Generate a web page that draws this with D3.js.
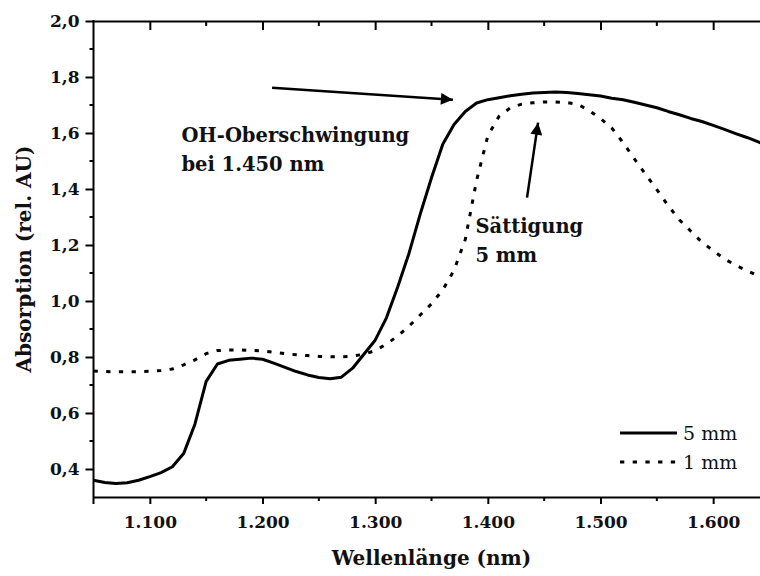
<!DOCTYPE html>
<html>
<head>
<meta charset="utf-8">
<script src="https://cdn.jsdelivr.net/npm/d3@7"></script>
<style>
  html, body { margin: 0; padding: 0; background: #fff; }
  svg { display: block; }
  text { font-family: "DejaVu Serif", "Liberation Serif", serif; fill: #111; }
</style>
</head>
<body>
<svg id="chart" width="760" height="576"></svg>
<script>
// Wavelength grid (nm), 10 nm steps
const wavelengths = d3.range(1050, 1651, 10);

// Absorption of the 5 mm sample (rel. AU)
const abs5mm = [
  0.360, 0.352, 0.348, 0.351, 0.360, 0.373, 0.387, 0.408, 0.455, 0.560,
  0.713, 0.775, 0.788, 0.792, 0.796, 0.792, 0.778, 0.763, 0.748, 0.736,
  0.727, 0.722, 0.728, 0.760, 0.810, 0.860, 0.940, 1.050, 1.170, 1.310,
  1.440, 1.560, 1.630, 1.677, 1.707, 1.719, 1.726, 1.733, 1.738, 1.743,
  1.745, 1.746, 1.745, 1.741, 1.737, 1.732, 1.724, 1.719, 1.710, 1.700,
  1.690, 1.677, 1.665, 1.652, 1.641, 1.627, 1.613, 1.598, 1.584, 1.568,
  1.552
];

// Absorption of the 1 mm sample (rel. AU)
const abs1mm = [
  0.750, 0.748, 0.747, 0.747, 0.748, 0.749, 0.752, 0.757, 0.772, 0.790,
  0.812, 0.823, 0.825, 0.825, 0.824, 0.822, 0.817, 0.812, 0.808, 0.805,
  0.802, 0.801, 0.801, 0.803, 0.810, 0.823, 0.846, 0.875, 0.910, 0.950,
  0.990, 1.040, 1.110, 1.220, 1.430, 1.590, 1.660, 1.690, 1.703, 1.708,
  1.711, 1.711, 1.709, 1.702, 1.680, 1.652, 1.618, 1.566, 1.508, 1.452,
  1.398, 1.341, 1.290, 1.250, 1.210, 1.180, 1.150, 1.128, 1.108, 1.090,
  1.075
];

const seriesNames = ["5 mm", "1 mm"];

// Axis ticks
const xMajorTicks = [1100, 1200, 1300, 1400, 1500, 1600];
const xMinorTicks = [1150, 1250, 1350, 1450, 1550, 1650];
const yMajorTicks = [0.4, 0.6, 0.8, 1.0, 1.2, 1.4, 1.6, 1.8, 2.0];
const yMinorTicks = [0.5, 0.7, 0.9, 1.1, 1.3, 1.5, 1.7, 1.9];

const svg = d3.select("#chart");

const x = d3.scaleLinear().domain([1050, 1650]).range([93.5, 769.5]);
const y = d3.scaleLinear().domain([0.3, 2.0]).range([497, 21]);

// German number formatting: "1.100" and "1,8"
const de = d3.formatLocale({ decimal: ",", thousands: ".", grouping: [3], currency: ["", " €"] });
const fmtX = de.format(",");
const fmtY = de.format(".1f");

const defs = svg.append("defs");
defs.append("clipPath").attr("id", "plotClip")
  .append("rect").attr("x", x(1050)).attr("y", y(2.0))
  .attr("width", x(1650) - x(1050)).attr("height", y(0.3) - y(2.0));

const marker = defs.append("marker")
  .attr("id", "arrowHead").attr("viewBox", "0 0 10 10")
  .attr("refX", 10).attr("refY", 5)
  .attr("markerUnits", "userSpaceOnUse")
  .attr("markerWidth", 22).attr("markerHeight", 12)
  .attr("orient", "auto");
marker.append("path").attr("d", "M0,0 L10,5 L0,10 Z").attr("fill", "#000");

const axisStyle = g => {
  g.select(".domain").attr("stroke", "#000").attr("stroke-width", 2);
  g.selectAll(".tick line").attr("stroke", "#000").attr("stroke-width", 2);
};

// Bottom axis (ticks outward)
const gx = svg.append("g").attr("transform", `translate(0,${y(0.3)})`);
gx.call(d3.axisBottom(x).tickValues(xMajorTicks).tickFormat(fmtX).tickSizeInner(7).tickSizeOuter(0).tickPadding(12))
  .call(axisStyle);
gx.selectAll(".tick text").attr("font-size", 17).attr("font-weight", "bold").attr("fill", "#111").attr("font-family", "DejaVu Serif");
gx.selectAll(".minor").data(xMinorTicks).enter().append("line")
  .attr("x1", d => x(d)).attr("x2", d => x(d)).attr("y1", 0).attr("y2", 4)
  .attr("stroke", "#000").attr("stroke-width", 2);

// Top axis (ticks inward, no labels)
const gt = svg.append("g").attr("transform", `translate(0,${y(2.0)})`);
gt.call(d3.axisTop(x).tickValues(xMajorTicks).tickFormat("").tickSizeInner(-9).tickSizeOuter(0))
  .call(axisStyle);
gt.selectAll(".minor").data(xMinorTicks).enter().append("line")
  .attr("x1", d => x(d)).attr("x2", d => x(d)).attr("y1", 0).attr("y2", 5)
  .attr("stroke", "#000").attr("stroke-width", 2);

// Left axis (ticks outward)
const gy = svg.append("g").attr("transform", `translate(${x(1050)},0)`);
gy.call(d3.axisLeft(y).tickValues(yMajorTicks).tickFormat(fmtY).tickSizeInner(8).tickSizeOuter(0).tickPadding(6))
  .call(axisStyle);
gy.select(".domain").attr("d", `M0,${y(2.0) - 1}V${y(0.3) + 7}`);
gy.selectAll(".tick text").attr("font-size", 17).attr("font-weight", "bold").attr("fill", "#111").attr("font-family", "DejaVu Serif");
gy.selectAll(".minor").data(yMinorTicks).enter().append("line")
  .attr("x1", -4).attr("x2", 0).attr("y1", d => y(d)).attr("y2", d => y(d))
  .attr("stroke", "#000").attr("stroke-width", 2);

// Axis titles
svg.append("text")
  .attr("x", (x(1050) + x(1650)) / 2).attr("y", 565)
  .attr("text-anchor", "middle").attr("font-size", 20).attr("font-weight", "bold")
  .text("Wellenlänge (nm)");

svg.append("text")
  .attr("transform", `translate(31,${(y(0.3) + y(2.0)) / 2}) rotate(-90)`)
  .attr("text-anchor", "middle").attr("font-size", 20).attr("font-weight", "bold")
  .text("Absorption (rel. AU)");

// Spectra
const line = d3.line().x(d => x(d[0])).y(d => y(d[1])).curve(d3.curveLinear);
const plot = svg.append("g").attr("clip-path", "url(#plotClip)");

plot.append("path")
  .datum(wavelengths.map((w, i) => [w, abs5mm[i]]))
  .attr("d", line).attr("fill", "none").attr("stroke", "#000")
  .attr("stroke-width", 3).attr("stroke-linejoin", "round");

plot.append("path")
  .datum(wavelengths.map((w, i) => [w, abs1mm[i]]))
  .attr("d", line).attr("fill", "none").attr("stroke", "#000")
  .attr("stroke-width", 3).attr("stroke-dasharray", "4.3,8.4");

// Annotation arrows (data coordinates)
const arrows = [
  { from: [1208.5, 1.762], to: [1369, 1.719] },
  { from: [1434.8, 1.369], to: [1444.6, 1.637] }
];
svg.selectAll(".arrow").data(arrows).enter().append("line")
  .attr("x1", d => x(d.from[0])).attr("y1", d => y(d.from[1]))
  .attr("x2", d => x(d.to[0])).attr("y2", d => y(d.to[1]))
  .attr("stroke", "#000").attr("stroke-width", 2.5)
  .attr("marker-end", "url(#arrowHead)");

// Annotation labels
const notes = [
  { at: [1128, 1.569], lines: ["OH-Oberschwingung", "bei 1.450 nm"] },
  { at: [1389, 1.243], lines: ["Sättigung", "5 mm"] }
];
notes.forEach(n => {
  const t = svg.append("text").attr("font-size", 19.5).attr("font-weight", "bold");
  n.lines.forEach((s, i) => {
    t.append("tspan").attr("x", x(n.at[0])).attr("y", y(n.at[1]) + i * 29).text(s);
  });
});

// Legend
const legend = svg.append("g");
seriesNames.forEach((name, i) => {
  const ly = 433 + i * 29;
  legend.append("line")
    .attr("x1", 620).attr("x2", 677).attr("y1", ly).attr("y2", ly)
    .attr("stroke", "#000").attr("stroke-width", 3)
    .attr("stroke-dasharray", i === 0 ? null : "4.3,8.4");
  legend.append("text")
    .attr("x", 683).attr("y", ly + 7).attr("font-size", 19)
    .text(name);
});
</script>
</body>
</html>
